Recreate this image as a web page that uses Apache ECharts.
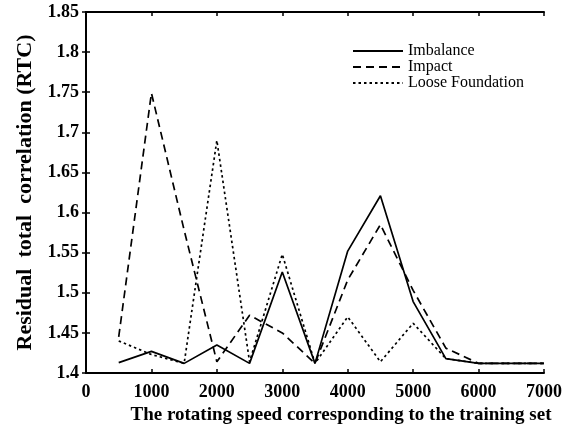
<!DOCTYPE html>
<html>
<head>
<meta charset="utf-8">
<script src="https://cdn.jsdelivr.net/npm/echarts@6/dist/echarts.min.js"></script>
<style>
  html, body { margin: 0; padding: 0; background: #fff; }
  #chart { width: 567px; height: 433px; }
</style>
</head>
<body>
<div id="chart"></div>
<script>
// rotating speeds of the training set
const speeds = [500, 1000, 1500, 2000, 2500, 3000, 3500, 4000, 4500, 5000, 5500, 6000, 6500, 7000];
const imbalance = [1.413, 1.427, 1.412, 1.435, 1.412, 1.526, 1.412, 1.552, 1.621, 1.489, 1.418, 1.412, 1.412, 1.412];
const impact = [1.445, 1.749, 1.578, 1.414, 1.472, 1.450, 1.412, 1.516, 1.585, 1.503, 1.431, 1.412, 1.412, 1.412];
const looseFoundation = [1.440, 1.423, 1.412, 1.690, 1.414, 1.548, 1.412, 1.470, 1.414, 1.462, 1.418, 1.412, 1.412, 1.412];

const font = '"Liberation Serif", "DejaVu Serif", serif';

const pairs = vals => speeds.map((s, i) => [s, vals[i]]);

const line = (name, vals, type) => ({
  name: name,
  type: 'line',
  data: pairs(vals),
  symbol: 'none',
  lineStyle: { color: '#000', width: 1.7, type: type },
  itemStyle: { color: '#000' }
});

const chart = echarts.init(document.getElementById('chart'));

const tickStyle = { inside: true, length: 4, lineStyle: { color: '#000', width: 1.5 } };
const axisLine = { lineStyle: { color: '#000', width: 2 } };
const labelStyle = { fontFamily: font, fontSize: 18, fontWeight: 'bold', color: '#000' };

chart.setOption({
  animation: false,
  grid: { left: 86, right: 23, top: 12, bottom: 60 },
  legend: {
    orient: 'vertical',
    left: 347,
    top: 38,
    itemWidth: 50,
    itemHeight: 12,
    itemGap: 0,
    itemStyle: { opacity: 0 },
    textStyle: { fontFamily: font, fontSize: 16, color: '#000' },
    data: ['Imbalance', 'Impact', 'Loose Foundation']
  },
  xAxis: [
    {
      type: 'value',
      min: 0,
      max: 7000,
      interval: 1000,
      name: 'The rotating speed corresponding to the training set',
      nameLocation: 'middle',
      nameGap: 27,
      nameTextStyle: { fontFamily: font, fontSize: 19, fontWeight: 'bold', color: '#000', padding: [0, 0, 0, 52] },
      axisLine: axisLine,
      axisTick: tickStyle,
      axisLabel: Object.assign({ margin: 10, formatter: v => String(v) }, labelStyle),
      splitLine: { show: false }
    },
    {
      type: 'value',
      position: 'top',
      min: 0,
      max: 7000,
      interval: 1000,
      axisLine: axisLine,
      axisTick: tickStyle,
      axisLabel: { show: false },
      splitLine: { show: false }
    }
  ],
  yAxis: [
    {
      type: 'value',
      min: 1.4,
      max: 1.85,
      interval: 0.05,
      name: 'Residual  total  correlation (RTC)',
      nameLocation: 'middle',
      nameGap: 47,
      nameTextStyle: { fontFamily: font, fontSize: 22, fontWeight: 'bold', color: '#000' },
      axisLine: axisLine,
      axisTick: tickStyle,
      axisLabel: Object.assign({ margin: 7 }, labelStyle),
      splitLine: { show: false }
    },
    {
      type: 'value',
      position: 'right',
      min: 1.4,
      max: 1.85,
      interval: 0.05,
      axisLine: axisLine,
      axisTick: tickStyle,
      axisLabel: { show: false },
      splitLine: { show: false }
    }
  ],
  series: [
    line('Imbalance', imbalance, 'solid'),
    line('Impact', impact, [8, 5]),
    line('Loose Foundation', looseFoundation, [2.5, 3])
  ]
});
</script>
</body>
</html>
